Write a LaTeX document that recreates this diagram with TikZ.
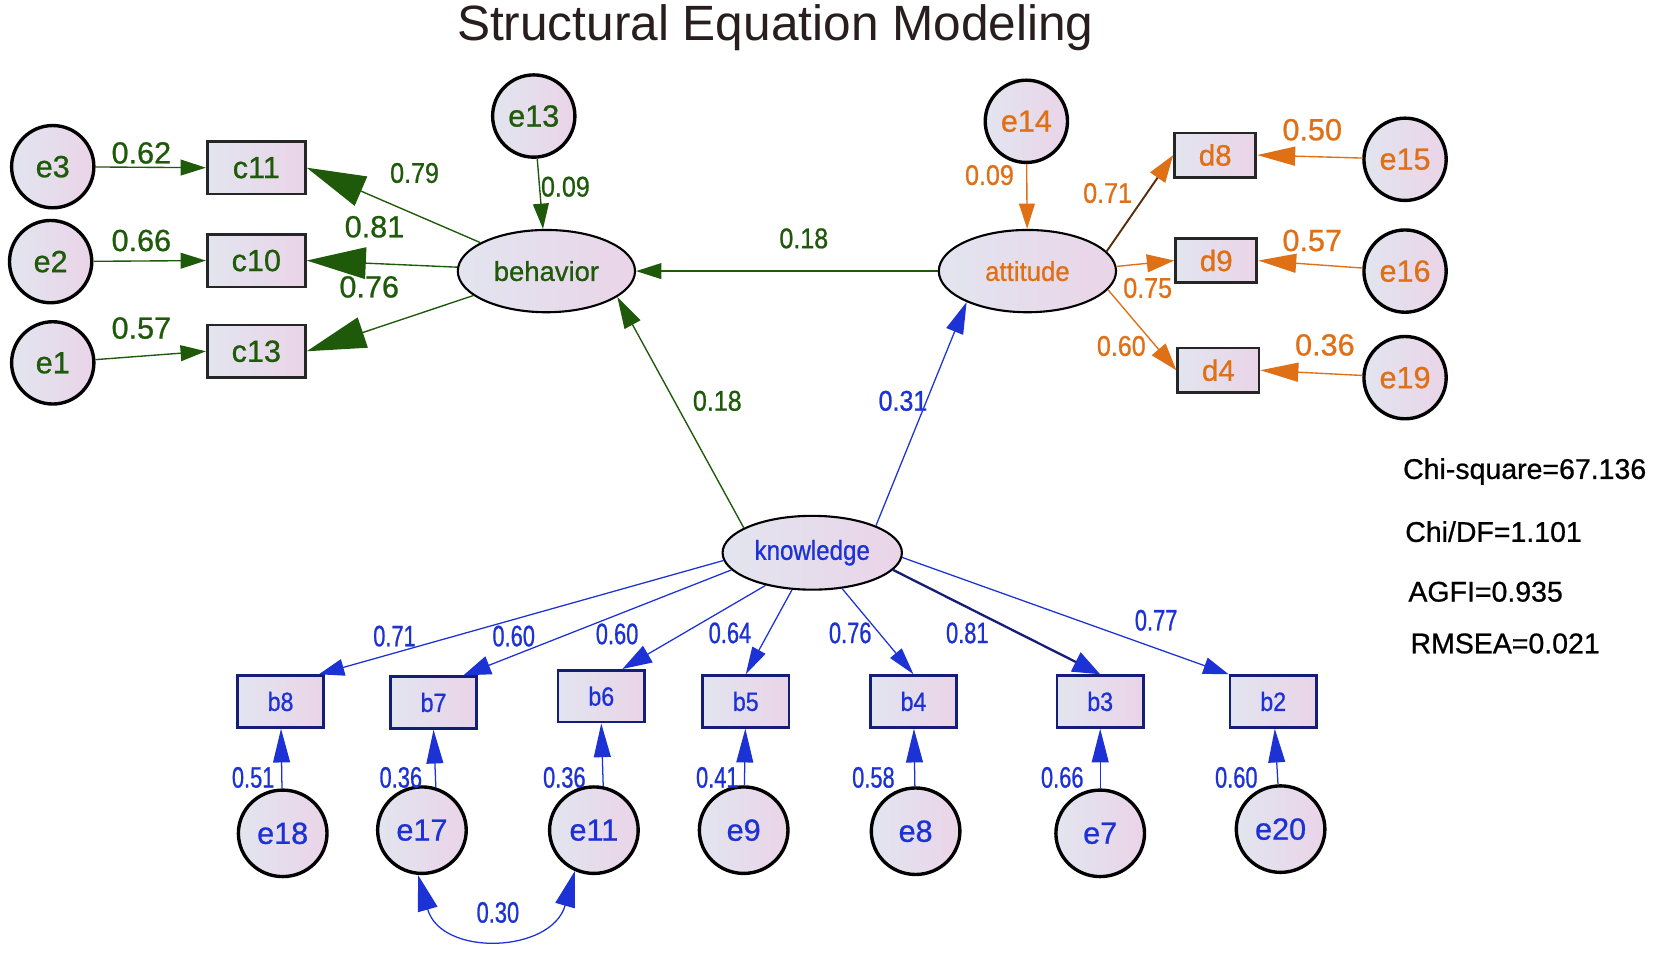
\documentclass[tikz,border=0pt]{standalone}
\usepackage{fontspec}
\setmainfont{Liberation Sans}
\newfontfamily\rfont[FakeBold=0.8]{Liberation Sans}
\newfontfamily\nfont[FakeStretch=0.88,FakeBold=0.8]{Liberation Sans}
\newfontfamily\afont[FakeStretch=0.94,FakeBold=0.8]{Liberation Sans}
\newfontfamily\nnfont[FakeStretch=0.74,FakeBold=0.8]{Liberation Sans}
\usetikzlibrary{arrows.meta,shapes.geometric,calc}
\definecolor{gr}{RGB}{30,90,10}
\definecolor{og}{RGB}{224,112,22}
\definecolor{bl}{RGB}{28,50,212}
\definecolor{navy}{RGB}{20,30,120}
\definecolor{fl}{RGB}{226,229,239}
\definecolor{fr}{RGB}{234,212,232}
\definecolor{ttl}{RGB}{40,30,30}
\begin{document}
\begin{tikzpicture}[x=1pt,y=-1pt,
  err/.style={ellipse,draw=black,line width=3.2pt,minimum width=78pt,minimum height=78pt,inner sep=0pt,left color=fl,right color=fr,font=\rfont\fontsize{29}{29}\selectfont},
  errb/.style={err,minimum width=84pt,minimum height=82pt},
  lat/.style={ellipse,draw=black,line width=2pt,minimum width=168pt,minimum height=78pt,inner sep=0pt,left color=fl,right color=fr,font=\rfont\fontsize{26}{26}\selectfont},
  obsc/.style={rectangle,draw=black!85,line width=2.6pt,minimum width=93pt,minimum height=50pt,inner sep=0pt,left color=fl,right color=fr,font=\rfont\fontsize{29}{29}\selectfont},
  obsd/.style={rectangle,draw=black!85,line width=2.6pt,minimum width=77pt,minimum height=42pt,inner sep=0pt,left color=fl,right color=fr,font=\rfont\fontsize{28}{28}\selectfont},
  obsb/.style={rectangle,draw=navy,line width=2.6pt,minimum width=82pt,minimum height=49pt,inner sep=0pt,left color=fl,right color=fr,font=\nfont\fontsize{25}{25}\selectfont},
  lab/.style={inner sep=0pt,font=\nfont\fontsize{27}{27}\selectfont},
  labL/.style={inner sep=0pt,font=\rfont\fontsize{29}{29}\selectfont},
  labB/.style={inner sep=0pt,font=\nnfont\fontsize{28}{28}\selectfont},
  stat/.style={inner sep=0pt,anchor=west,font=\rfont\fontsize{27}{27}\selectfont},
  tipS/.style={-{Triangle[length=24pt,width=15pt]}},
  tipM/.style={-{Triangle[length=32pt,width=16pt]}},
  tipL/.style={-{Triangle[length=56pt,width=30pt]}},
  cg/.style={draw=gr,line width=1.3pt},
  co/.style={draw=og,line width=1.3pt},
  cb/.style={draw=bl,line width=1.2pt},
]
\useasboundingbox (0,0) rectangle (1568,903);
\fill[white] (0,0) rectangle (1568,903);

\node[text=ttl,font=\fontsize{47}{47}\selectfont] (title) at (735,26) {Structural Equation Modeling};

% behavior block
\node[err,text=gr] (e3) at (50,158) {e3};
\node[err,text=gr] (e2) at (48,248) {e2};
\node[err,text=gr] (e1) at (50,344) {e1};
\node[obsc,text=gr] (c11) at (243,159) {c11};
\node[obsc,text=gr] (c10) at (243,247) {c10};
\node[obsc,text=gr] (c13) at (243,333) {c13};
\node[err,text=gr] (e13) at (506,110) {e13};
\node[lat,text=gr] (beh) at (518,257) {behavior};

% attitude block
\node[lat,text=og,font=\afont\fontsize{26}{26}\selectfont] (att) at (974,257) {attitude};
\node[err,text=og] (e14) at (973,115) {e14};
\node[obsd,text=og] (d8) at (1152,147) {d8};
\node[obsd,text=og] (d9) at (1153,247) {d9};
\node[obsd,text=og] (d4) at (1155,351) {d4};
\node[err,text=og] (e15) at (1332,151) {e15};
\node[err,text=og] (e16) at (1332,257) {e16};
\node[err,text=og] (e19) at (1332,358) {e19};

% knowledge block
\node[lat,text=bl,minimum width=170pt,minimum height=70pt,font=\nfont\fontsize{26}{26}\selectfont] (know) at (770,524) {knowledge};
\node[obsb,text=bl] (b8) at (266,665) {b8};
\node[obsb,text=bl] (b7) at (411,666) {b7};
\node[obsb,text=bl] (b6) at (570,660) {b6};
\node[obsb,text=bl] (b5) at (707,665) {b5};
\node[obsb,text=bl] (b4) at (866,665) {b4};
\node[obsb,text=bl] (b3) at (1043,665) {b3};
\node[obsb,text=bl] (b2) at (1207,665) {b2};
\node[errb,text=bl] (e18) at (268,790) {e18};
\node[errb,text=bl] (e17) at (400,787) {e17};
\node[errb,text=bl] (e11) at (563,787) {e11};
\node[errb,text=bl] (e9) at (705,787) {e9};
\node[errb,text=bl] (e8) at (868,788) {e8};
\node[errb,text=bl] (e7) at (1043,790) {e7};
\node[errb,text=bl] (e20) at (1214,786) {e20};

% green connectors
\draw[cg,tipS] (e3) -- (c11.west);
\draw[cg,tipS] (e2) -- (c10.west);
\draw[cg,tipS] (e1) -- (c13.west);
\draw[cg,tipL] (beh) -- (c11.east);
\draw[cg,tipL] (beh) -- (c10.east);
\draw[cg,tipL] (beh) -- (c13.east);
\draw[cg,tipS] (e13) -- (beh);
\draw[cg,tipS] (att) -- (beh);
\draw[cg,-{Triangle[length=30pt,width=17pt]}] (know.160) -- (beh.-20);

% orange connectors
\draw[co,tipS] (e14) -- (att);
\draw[draw=black!60!og,line width=1.8pt,-{Triangle[length=26pt,width=17pt,color=og]}] (att.14) -- (d8.west);
\draw[co,-{Triangle[length=26pt,width=17pt]}] (att.3) -- (d9.west);
\draw[co,-{Triangle[length=26pt,width=17pt]}] (att.-13) -- (d4.west);
\draw[co,-{Triangle[length=36pt,width=18pt]}] (e15) -- (d8.east);
\draw[co,-{Triangle[length=36pt,width=18pt]}] (e16) -- (d9.east);
\draw[co,-{Triangle[length=36pt,width=18pt]}] (e19) -- (d4.east);

% blue connectors
\draw[cb,-{Triangle[length=30pt,width=17pt]}] (know.23) -- (att.207);
\draw[cb,-{Triangle[length=24pt,width=16pt]}] (know.185) -- ([xshift=-6pt]b8.north east);
\draw[cb,-{Triangle[length=26pt,width=18pt]}] (know.192) -- ([xshift=-14pt]b7.north east);
\draw[cb,-{Triangle[length=28pt,width=18pt]}] (know.215) -- ([xshift=20pt]b6.north);
\draw[cb,-{Triangle[length=26pt,width=14pt]}] (know) -- (b5.north);
\draw[cb,-{Triangle[length=26pt,width=14pt]}] (know) -- (b4.north);
\draw[draw=navy,line width=2.2pt,-{Triangle[length=26pt,width=20pt,color=bl]}] (know.-12) -- (b3.north);
\draw[cb,-{Triangle[length=24pt,width=16pt]}] (know.-3) -- (b2.north west);
\draw[cb,tipM] (e18) -- (b8);
\draw[cb,tipM] (e17.72) -- (b7.south);
\draw[cb,tipM] (e11.78) -- (b6.south);
\draw[cb,tipM] (e9) -- (b5);
\draw[cb,tipM] (e8) -- (b4);
\draw[cb,tipM] (e7) -- (b3);
\draw[cb,tipM] (e20) -- (b2);
\draw[cb,{Triangle[length=34pt,width=19pt]}-{Triangle[length=34pt,width=19pt]}]
  (e17.-95) .. controls +(22,78) and +(-22,78) .. (e11.-115);

% green labels
\node[labL,text=gr] (l1) at (134,145) {0.62};
\node[labL,text=gr] (l2) at (134,228) {0.66};
\node[labL,text=gr] (l3) at (134,311) {0.57};
\node[lab,text=gr] (l4) at (393,164) {0.79};
\node[labL,text=gr] (l5) at (355,215) {0.81};
\node[labL,text=gr] (l6) at (350,272) {0.76};
\node[lab,text=gr] (l7) at (536,177) {0.09};
\node[lab,text=gr] (l8) at (762,226) {0.18};
\node[lab,text=gr] (l9) at (680,380) {0.18};

% orange labels
\node[lab,text=og] (l10) at (938,166) {0.09};
\node[lab,text=og] (l11) at (1050,183) {0.71};
\node[lab,text=og] (l12) at (1088,273) {0.75};
\node[lab,text=og] (l13) at (1063,328) {0.60};
\node[labL,text=og] (l14) at (1244,123) {0.50};
\node[labL,text=og] (l15) at (1244,228) {0.57};
\node[labL,text=og] (l16) at (1256,327) {0.36};

% blue labels
\node[lab,text=bl] (l17) at (856,380) {0.31};
\node[labB,text=bl] (l18) at (374,603) {0.71};
\node[labB,text=bl] (l19) at (487,603) {0.60};
\node[labB,text=bl] (l20) at (585,601) {0.60};
\node[labB,text=bl] (l21) at (692,600) {0.64};
\node[labB,text=bl] (l22) at (806,600) {0.76};
\node[labB,text=bl] (l23) at (917,600) {0.81};
\node[labB,text=bl] (l24) at (1096,588) {0.77};
\node[labB,text=bl] (l25) at (240,737) {0.51};
\node[labB,text=bl] (l26) at (380,737) {0.36};
\node[labB,text=bl] (l27) at (535,737) {0.36};
\node[labB,text=bl] (l28) at (680,737) {0.41};
\node[labB,text=bl] (l29) at (828,737) {0.58};
\node[labB,text=bl] (l30) at (1007,737) {0.66};
\node[labB,text=bl] (l31) at (1172,737) {0.60};
\node[labB,text=bl] (l32) at (472,865) {0.30};

% fit statistics
\node[stat] (s1) at (1330,447) {Chi-square=67.136};
\node[stat] (s2) at (1332,504) {Chi/DF=1.101};
\node[stat] (s3) at (1335,561) {AGFI=0.935};
\node[stat] (s4) at (1337,610) {RMSEA=0.021};
\end{tikzpicture}
\end{document}
